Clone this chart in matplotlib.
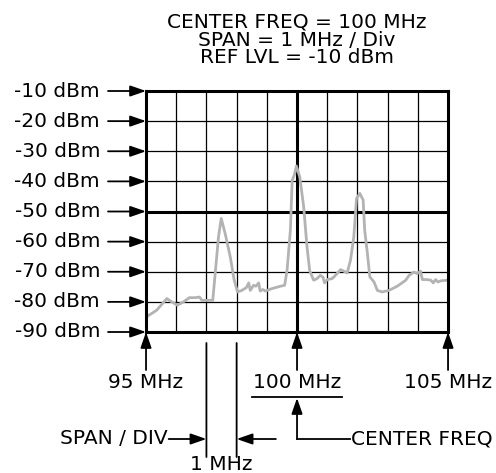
import matplotlib
matplotlib.use('Agg')
import matplotlib.pyplot as plt
import matplotlib.transforms as mtransforms

# trace (MHz, dBm)
freq = [95.04, 95.35, 95.69, 95.85, 96.04, 96.24, 96.44, 96.63, 96.77, 96.85, 97.01, 97.21,
        97.29, 97.40, 97.49, 97.62, 97.79, 97.92, 98.03, 98.17, 98.32, 98.40, 98.45, 98.56,
        98.64, 98.73, 98.78, 98.87, 98.95, 99.17, 99.45, 99.59, 99.67, 99.78, 99.84, 99.91,
        99.98, 100.09, 100.22, 100.33, 100.42, 100.55, 100.66, 100.77, 100.86, 100.91, 101.00,
        101.16, 101.27, 101.44, 101.55, 101.66, 101.77, 101.88, 101.97, 102.08, 102.19, 102.24,
        102.33, 102.41, 102.55, 102.66, 102.82, 103.04, 103.32, 103.60, 103.71, 103.87, 103.98,
        104.09, 104.15, 104.31, 104.43, 104.51, 104.59, 104.67, 104.76, 104.98]
level = [-84.8, -82.8, -78.9, -80.0, -81.1, -80.0, -78.6, -78.6, -78.4, -79.5, -79.5, -79.5,
         -70.6, -58.4, -52.3, -57.3, -65.1, -72.8, -76.7, -76.2, -75.3, -73.7, -76.2, -74.5,
         -74.8, -73.7, -76.4, -75.9, -76.4, -75.6, -74.8, -74.5, -69.5, -56.2, -39.6, -37.9,
         -34.9, -38.5, -48.4, -61.7, -69.7, -72.8, -72.3, -71.2, -71.8, -73.7, -72.6,
         -72.3, -71.2, -69.3, -69.8, -70.4, -66.2, -58.4, -45.7, -44.0, -46.2, -56.2,
         -63.9, -71.7, -73.4, -76.2, -76.7, -76.2, -74.8, -72.8, -71.2, -70.1, -70.6,
         -69.8, -72.6, -72.6, -72.8, -73.7, -72.6, -73.4, -73.0, -72.8]

y_ticks = [-10, -20, -30, -40, -50, -60, -70, -80, -90]
y_labels = ['-10 dBm', '-20 dBm', '-30 dBm', '-40 dBm', '-50 dBm', '-60 dBm', '-70 dBm', '-80 dBm', '-90 dBm']
x_ticks = [95, 100, 105]
x_labels = ['95 MHz', '100 MHz', '105 MHz']
title_lines = ['CENTER FREQ = 100 MHz', 'SPAN = 1 MHz / Div', 'REF LVL = -10 dBm']
title_y = [0.9545, 0.9154, 0.8784]

fs = 14.5
arrow = dict(arrowstyle='-|>,head_length=0.95,head_width=0.33', color='black', lw=1.3,
             shrinkA=0, shrinkB=0)

fig = plt.figure(figsize=(4.96, 4.73), dpi=100)
ax = fig.add_axes([0.2944, 0.2981, 0.6089, 0.5095])
ax.set_xlim(95, 105)
ax.set_ylim(-90, -10)

for f in range(95, 106):
    ax.axvline(f, color='black', lw=0.9, zorder=1)
for d in range(-90, -9, 10):
    ax.axhline(d, color='black', lw=0.9, zorder=1)
ax.axvline(100, color='black', lw=2.2, zorder=1)
ax.axhline(-50, color='black', lw=2.2, zorder=1)

ax.plot(freq, level, color='#b3b3b3', lw=2.0, zorder=2)

for s in ax.spines.values():
    s.set_linewidth(2.2)
ax.set_xticks([])
ax.set_yticks([])


def below(dy):
    # data coords shifted down by dy pixels
    return mtransforms.offset_copy(ax.transData, fig=fig, x=0, y=-dy, units='dots')


# y labels with arrows
for v, lab in zip(y_ticks, y_labels):
    ax.annotate('', xy=(95, v), xytext=(-38, 0), textcoords='offset pixels',
                arrowprops=arrow, annotation_clip=False)
    ax.annotate(lab, xy=(95, v), xytext=(-46, 0), textcoords='offset pixels',
                ha='right', va='center', fontsize=fs, annotation_clip=False)

# x labels with arrows
for v, lab in zip(x_ticks, x_labels):
    ax.annotate('', xy=(v, -90), xytext=(0, -38), textcoords='offset pixels',
                arrowprops=arrow, annotation_clip=False)
    ax.annotate(lab, xy=(v, -90), xytext=(0, -51), textcoords='offset pixels',
                ha='center', va='center', fontsize=fs, annotation_clip=False)

# underline under 100 MHz and center freq callout
ax.plot([98.5, 101.5], [-90, -90], color='black', lw=1.3, transform=below(65), clip_on=False)
ax.annotate('', xy=(100, -90), xytext=(100, -90), xycoords=below(66), textcoords=below(107),
            arrowprops=arrow, annotation_clip=False)
ax.plot([100, 101.75], [-90, -90], color='black', lw=1.3, transform=below(107), clip_on=False)
ax.annotate('CENTER FREQ', xy=(101.8, -90), xycoords=below(107), ha='left', va='center',
            fontsize=fs, annotation_clip=False)

# span / div markers
for f in [97, 98]:
    ax.annotate('', xy=(f, -90), xytext=(f, -90), xycoords=below(11), textcoords=below(125),
                arrowprops=dict(arrowstyle='-', color='black', lw=1.3, shrinkA=0, shrinkB=0),
                annotation_clip=False)
ax.annotate('', xy=(97, -90), xytext=(95.75, -90), xycoords=below(107), textcoords=below(107),
            arrowprops=arrow, annotation_clip=False)
ax.annotate('', xy=(98, -90), xytext=(99.3, -90), xycoords=below(107), textcoords=below(107),
            arrowprops=arrow, annotation_clip=False)
ax.annotate('SPAN / DIV', xy=(95.72, -90), xycoords=below(107), ha='right', va='center',
            fontsize=fs, annotation_clip=False)
ax.annotate('1 MHz', xy=(97.5, -90), xycoords=below(133), ha='center', va='center',
            fontsize=fs, annotation_clip=False)

for t, yy in zip(title_lines, title_y):
    fig.text(0.5988, yy, t, ha='center', va='center', fontsize=fs)

fig.savefig('out.png', dpi=100)
